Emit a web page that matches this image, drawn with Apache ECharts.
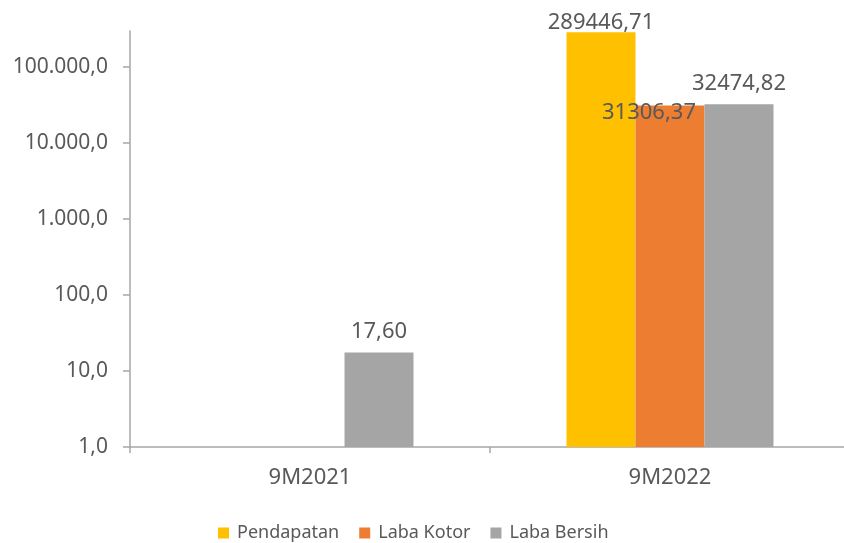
<!DOCTYPE html>
<html>
<head>
<meta charset="utf-8">
<script src="https://cdn.jsdelivr.net/npm/echarts@6/dist/echarts.min.js"></script>
<style>
  html, body { margin: 0; padding: 0; background: #fff; }
  #chart { width: 844px; height: 543px; }
</style>
</head>
<body>
<div id="chart"></div>
<script>
// data
const periods = ['9M2021', '9M2022']
const pendapatan = [null, 289446.71]
const labaKotor = [null, 31306.37]
const labaBersih = [17.60, 32474.82]
const yTicks = [1, 10, 100, 1000, 10000, 100000]

const textColor = '#595959'
const axisColor = '#a6a6a6'
const font = 'Noto Sans'

// 100000 -> "100.000,0"
function axisFmt(v) {
  const s = Math.round(v).toString().replace(/\B(?=(\d{3})+(?!\d))/g, '.')
  return s + ',0'
}
function valFmt(p) {
  return p.value == null ? '' : p.value.toFixed(2).replace('.', ',')
}

const chart = echarts.init(document.getElementById('chart'), null, { renderer: 'canvas' })

const labelBase = {
  show: true,
  position: 'top',
  distance: 0,
  color: textColor,
  fontSize: 22,
  fontFamily: font,
  formatter: valFmt,
}

chart.setOption({
  backgroundColor: '#fff',
  animation: false,
  // plot runs a little past the right edge, as in the picture
  grid: { left: 130, top: 31, width: 720, height: 416, containLabel: false, outerBoundsMode: 'none' },
  legend: {
    top: 519,
    left: 213,
    icon: 'rect',
    itemWidth: 11,
    itemHeight: 11,
    itemGap: 20,
    textStyle: { color: textColor, fontSize: 18, fontFamily: font, padding: [0, 0, 0, 3] },
    data: ['Pendapatan', 'Laba Kotor', 'Laba Bersih'],
  },
  xAxis: {
    type: 'category',
    data: periods,
    axisLine: { lineStyle: { color: axisColor, width: 1.5 } },
    axisTick: { show: true, length: 6, lineStyle: { color: axisColor, width: 1.5 } },
    axisLabel: { color: textColor, fontSize: 22, fontFamily: font, margin: 20 },
  },
  yAxis: {
    type: 'log',
    logBase: 10,
    min: 1,
    max: 300000,
    axisLine: { show: true, lineStyle: { color: axisColor, width: 1.5 } },
    axisTick: { show: true, length: 7, customValues: yTicks, lineStyle: { color: axisColor, width: 1.5 } },
    splitLine: { show: false },
    axisLabel: {
      color: textColor,
      fontSize: 21,
      fontFamily: font,
      margin: 22,
      customValues: yTicks,
      formatter: axisFmt,
    },
  },
  series: [
    {
      name: 'Pendapatan',
      type: 'bar',
      data: pendapatan,
      itemStyle: { color: '#ffc000' },
      barGap: '0%',
      barCategoryGap: '42.5%',
      label: Object.assign({}, labelBase, { distance: -2 }),
    },
    {
      name: 'Laba Kotor',
      type: 'bar',
      data: labaKotor,
      itemStyle: { color: '#ed7d31' },
      label: Object.assign({}, labelBase, { position: 'insideTop', distance: 0, offset: [-21, -4] }),
    },
    {
      name: 'Laba Bersih',
      type: 'bar',
      data: labaBersih,
      itemStyle: { color: '#a5a5a5' },
      label: Object.assign({}, labelBase, { distance: 10 }),
    },
  ],
})

window.addEventListener('resize', () => chart.resize())
</script>
</body>
</html>
